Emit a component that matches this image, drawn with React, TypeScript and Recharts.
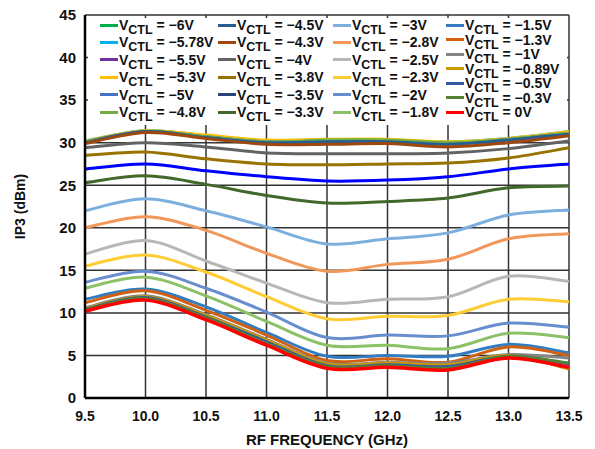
import { LineChart, Line, XAxis, YAxis, CartesianGrid } from "recharts";

const freqs = [9.5, 10, 10.5, 11, 11.5, 12, 12.5, 13, 13.5];

const vctlLabels = [
  "−6V", "−5.78V", "−5.5V", "−5.3V", "−5V", "−4.8V",
  "−4.5V", "−4.3V", "−4V", "−3.8V", "−3.5V", "−3.3V",
  "−3V", "−2.8V", "−2.5V", "−2.3V", "−2V", "−1.8V",
  "−1.5V", "−1.3V", "−1V", "−0.89V", "−0.5V", "−0.3V", "0V",
];

const ip3M6 = [30.1, 31.4, 30.8, 30.2, 30.3, 30.3, 30.0, 30.4, 31.2];
const ip3M578 = [30.2, 31.4, 30.8, 30.2, 30.3, 30.3, 30.1, 30.5, 31.3];
const ip3M55 = [30.1, 31.3, 30.7, 30.1, 30.2, 30.3, 30.0, 30.4, 31.2];
const ip3M53 = [30.2, 31.4, 30.9, 30.3, 30.4, 30.4, 30.1, 30.5, 31.3];
const ip3M5 = [30.1, 31.3, 30.7, 30.1, 30.2, 30.2, 29.9, 30.4, 31.1];
const ip3M48 = [30.1, 31.3, 30.7, 30.1, 30.3, 30.3, 30.0, 30.4, 31.1];
const ip3M45 = [30.0, 31.3, 30.6, 30.0, 30.1, 30.1, 29.8, 30.3, 31.0];
const ip3M43 = [29.9, 31.2, 30.5, 29.8, 29.8, 29.9, 29.5, 30.0, 30.8];
const ip3M4 = [29.4, 30.0, 29.5, 28.8, 28.7, 28.7, 28.8, 29.3, 30.2];
const ip3M38 = [28.5, 28.9, 28.1, 27.5, 27.4, 27.5, 27.6, 28.2, 29.4];
const ip3M35 = [26.9, 27.5, 26.7, 26.0, 25.5, 25.6, 26.0, 26.9, 27.5];
const ip3M33 = [25.3, 26.1, 25.1, 23.8, 22.9, 23.1, 23.5, 24.7, 24.9];
const ip3M3 = [22.0, 23.4, 22.0, 20.1, 18.1, 18.7, 19.4, 21.5, 22.1];
const ip3M28 = [20.0, 21.3, 19.7, 17.0, 14.9, 15.7, 16.3, 18.7, 19.3];
const ip3M25 = [16.9, 18.5, 16.1, 13.5, 11.2, 11.6, 11.9, 14.3, 13.7];
const ip3M23 = [15.5, 16.8, 14.8, 11.9, 9.3, 9.6, 9.7, 11.6, 11.3];
const ip3M2 = [13.6, 14.9, 12.9, 10.1, 7.1, 7.4, 7.3, 8.8, 8.3];
const ip3M18 = [12.9, 14.2, 12.0, 9.0, 6.2, 6.2, 5.8, 7.6, 7.1];
const ip3M15 = [11.6, 12.8, 10.7, 7.7, 4.9, 5.0, 4.9, 6.3, 5.3];
const ip3M13 = [11.2, 12.6, 10.3, 7.4, 4.4, 4.6, 4.2, 6.0, 5.0];
const ip3M1 = [10.6, 12.0, 9.8, 6.9, 4.1, 4.2, 4.1, 5.1, 4.7];
const ip3M089 = [10.5, 11.9, 9.7, 6.8, 4.0, 4.1, 3.9, 5.0, 3.4];
const ip3M05 = [10.4, 11.8, 9.5, 6.6, 3.8, 3.9, 3.7, 4.9, 4.0];
const ip3M03 = [10.3, 11.7, 9.4, 6.4, 3.7, 3.8, 3.5, 4.9, 4.1];
const ip3Zero = [10.2, 11.5, 9.2, 6.2, 3.5, 3.6, 3.3, 4.7, 3.6];

const ip3Series = [
  ip3M6, ip3M578, ip3M55, ip3M53, ip3M5, ip3M48,
  ip3M45, ip3M43, ip3M4, ip3M38, ip3M35, ip3M33,
  ip3M3, ip3M28, ip3M25, ip3M23, ip3M2, ip3M18,
  ip3M15, ip3M13, ip3M1, ip3M089, ip3M05, ip3M03, ip3Zero,
];

const lineColors = [
  "#00B050", "#00B0F0", "#7030A0", "#FFC000", "#4472C4", "#70AD47",
  "#255E91", "#9E480E", "#636363", "#997300", "#0000FF", "#43682B",
  "#7CAFDD", "#F1975A", "#B7B7B7", "#FFCD33", "#698ED0", "#8CC168",
  "#327DC2", "#D26012", "#848484", "#CC9A00", "#335AA1", "#548235", "#FF0000",
];
// legend swatch for -3.5V is navy in the original, the curve itself is bright blue
const swatchColors = lineColors.map((c, i) => (i === 10 ? "#264478" : c));

const xTicks = [9.5, 10, 10.5, 11, 11.5, 12, 12.5, 13, 13.5];
const yTicks = [0, 5, 10, 15, 20, 25, 30, 35, 40, 45];

const rows = freqs.map((f, i) => {
  const row: Record<string, number> = { f };
  ip3Series.forEach((s, k) => {
    row["s" + k] = s[i];
  });
  return row;
});

// Excel-like smoothed line (Catmull-Rom style bezier through every point)
function smoothCurve(ctx: any) {
  let pts: number[][] = [];
  return {
    areaStart() {},
    areaEnd() {},
    lineStart() {
      pts = [];
    },
    point(x: number, y: number) {
      pts.push([+x, +y]);
    },
    lineEnd() {
      if (!pts.length) return;
      ctx.moveTo(pts[0][0], pts[0][1]);
      for (let i = 0; i < pts.length - 1; i++) {
        const p0 = pts[i - 1] || pts[i];
        const p1 = pts[i];
        const p2 = pts[i + 1];
        const p3 = pts[i + 2] || p2;
        ctx.bezierCurveTo(
          p1[0] + (p2[0] - p0[0]) / 6,
          p1[1] + (p2[1] - p0[1]) / 6,
          p2[0] - (p3[0] - p1[0]) / 6,
          p2[1] - (p3[1] - p1[1]) / 6,
          p2[0],
          p2[1]
        );
      }
    },
  };
}

const font = "'Liberation Sans', Arial, sans-serif";
const colX = [100, 218, 333, 446];

function legendPos(i: number) {
  if (i < 18) {
    const col = Math.floor(i / 6);
    const r = i % 6;
    return { x: colX[col], y: 25 + r * 17.4 };
  }
  const r = i - 18;
  return { x: colX[3], y: 25 + r * 14.5 };
}

function ChartLegend() {
  return (
    <div
      style={{
        position: "absolute",
        left: 88,
        top: 18,
        width: 479,
        height: 107,
        background: "#fff",
      }}
    >
      {vctlLabels.map((lab, i) => {
        const p = legendPos(i);
        return (
          <div
            key={lab}
            style={{
              position: "absolute",
              left: p.x - 88,
              top: p.y - 18 - 9,
              height: 18,
              display: "flex",
              alignItems: "center",
              whiteSpace: "nowrap",
              fontFamily: font,
              fontWeight: "bold",
              fontSize: 14,
              color: "#111",
            }}
          >
            <div style={{ width: 18, height: 3, background: swatchColors[i], marginRight: 1 }} />
            <span>
              V
              <span style={{ fontSize: 12.5, position: "relative", top: 4 }}>CTL</span>
              {" = " + lab}
            </span>
          </div>
        );
      })}
    </div>
  );
}

export default function App() {
  return (
    <div style={{ position: "absolute", left: 0, top: 0, width: 595, height: 449, background: "#fff" }}>
      <LineChart
        width={595}
        height={449}
        data={rows}
        margin={{ top: 15, right: 26, bottom: 0, left: 0 }}
      >
        <CartesianGrid stroke="#333" strokeWidth={1.5} />
        <XAxis
          dataKey="f"
          type="number"
          domain={[9.5, 13.5]}
          ticks={xTicks}
          tickFormatter={(v: number) => v.toFixed(1)}
          tickSize={0}
          tickMargin={13}
          height={51}
          axisLine={{ stroke: "#000", strokeWidth: 2.5 }}
          tick={{ fontSize: 14, fontWeight: "bold", fill: "#111", fontFamily: font }}
          label={{
            value: "RF FREQUENCY (GHz)",
            position: "insideBottom",
            offset: 4,
            style: { fontSize: 15, fontWeight: "bold", fill: "#111", fontFamily: font },
          }}
        />
        <YAxis
          type="number"
          domain={[0, 45]}
          ticks={yTicks}
          tickSize={0}
          tickMargin={9}
          width={85}
          axisLine={{ stroke: "#000", strokeWidth: 2.5 }}
          tick={{ fontSize: 15, fontWeight: "bold", fill: "#111", fontFamily: font }}
          label={{
            value: "IP3 (dBm)",
            angle: -90,
            position: "insideLeft",
            offset: 20,
            style: { textAnchor: "middle", fontSize: 14, fontWeight: "bold", fill: "#111", fontFamily: font },
          }}
        />
        {ip3Series.map((_, k) => (
          <Line
            key={k}
            type={smoothCurve as any}
            dataKey={"s" + k}
            stroke={lineColors[k]}
            strokeWidth={k === 24 ? 3.5 : 3}
            dot={false}
            activeDot={false}
            isAnimationActive={false}
          />
        ))}
      </LineChart>
      <ChartLegend />
    </div>
  );
}
